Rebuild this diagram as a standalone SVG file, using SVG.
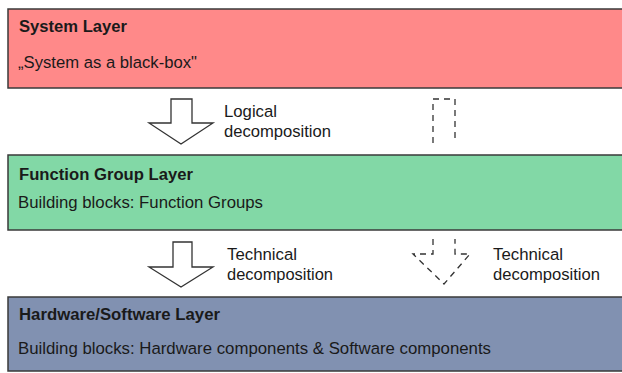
<svg xmlns="http://www.w3.org/2000/svg" width="622" height="373" viewBox="0 0 622 373">
<style>
.box{stroke:#3a3a3a;stroke-width:1.5}
.t{font-family:"Liberation Sans",Arial,sans-serif;font-size:16.3px;fill:#1a1a1a}
.b{font-weight:bold}
.arr{fill:#fff;stroke:#333;stroke-width:1.3;stroke-linejoin:miter}
.dash{fill:none;stroke:#333;stroke-width:1.3;stroke-dasharray:6,5}
</style>
<rect x="0" y="0" width="622" height="373" fill="#fff"/>
<g id="system-layer">
<rect class="box" x="8" y="9" width="616" height="79" fill="#FF8989"/>
<text class="t b" x="19" y="32" textLength="108" lengthAdjust="spacingAndGlyphs">System Layer</text>
<text class="t" x="18" y="68" textLength="179" lengthAdjust="spacingAndGlyphs">„System as a black-box"</text>
</g>
<g id="function-group-layer">
<rect class="box" x="8" y="155" width="616" height="75" fill="#82D8A6"/>
<text class="t b" x="19" y="180" textLength="174" lengthAdjust="spacingAndGlyphs">Function Group Layer</text>
<text class="t" x="18" y="208" textLength="245" lengthAdjust="spacingAndGlyphs">Building blocks: Function Groups</text>
</g>
<g id="hw-sw-layer">
<rect class="box" x="8" y="297" width="616" height="74" fill="#8191B1"/>
<text class="t b" x="19" y="320" textLength="201" lengthAdjust="spacingAndGlyphs">Hardware/Software Layer</text>
<text class="t" x="18" y="354" textLength="473" lengthAdjust="spacingAndGlyphs">Building blocks: Hardware components &amp; Software components</text>
</g>
<g id="connectors">
<polygon class="arr" points="171,99 192,99 192,123 213,123 181,144 149,123 171,123"/>
<text class="t" x="224" y="117" textLength="53" lengthAdjust="spacingAndGlyphs">Logical</text>
<text class="t" x="224" y="137" textLength="107" lengthAdjust="spacingAndGlyphs">decomposition</text>
<path class="dash" d="M433,143 V99 H455 V143"/>
<polygon class="arr" points="173,242 192,242 192,267 213,267 181,287 149,267 173,267"/>
<text class="t" x="227" y="260" textLength="70" lengthAdjust="spacingAndGlyphs">Technical</text>
<text class="t" x="227" y="280" textLength="106" lengthAdjust="spacingAndGlyphs">decomposition</text>
<path class="dash" d="M433,239 V254 H413 L444,284 L470,254 H455 V239"/>
<text class="t" x="493" y="260" textLength="70" lengthAdjust="spacingAndGlyphs">Technical</text>
<text class="t" x="493" y="280" textLength="107" lengthAdjust="spacingAndGlyphs">decomposition</text>
</g>
</svg>
